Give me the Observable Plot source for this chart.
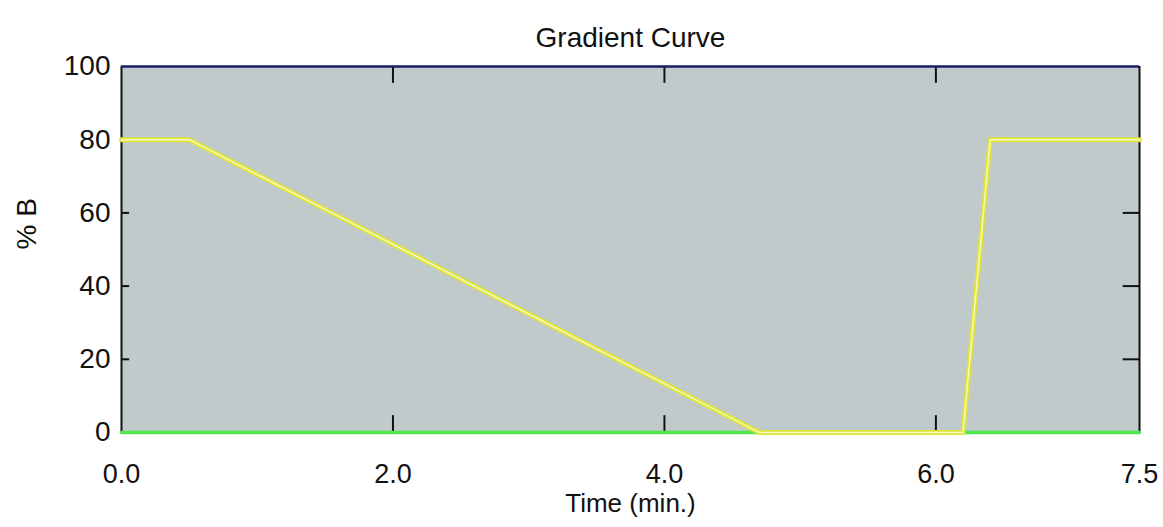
<!DOCTYPE html>
<html>
<head>
<meta charset="utf-8">
<script src="https://cdn.jsdelivr.net/npm/d3@7"></script>
<script src="https://cdn.jsdelivr.net/npm/@observablehq/plot@0.6"></script>
<style>
  html, body { margin: 0; padding: 0; background: #fff; }
  svg { display: block; }
</style>
</head>
<body>
<div id="chart"></div>
<script>
// Data
const gradientTime = [0, 0.5, 4.7, 6.2, 6.4, 7.5];
const gradientPercentB = [80, 80, 0, 0, 80, 80];
const baselineTime = [0, 7.5];
const baselineValue = [0, 0];
const xTicks = [0, 2, 4, 6, 7.5];
const xTickLabels = ["0.0", "2.0", "4.0", "6.0", "7.5"];
const yTicks = [0, 20, 40, 60, 80, 100];
const innerXTicks = [2, 4, 6];
const innerYTicks = [20, 40, 60, 80];

const gradient = gradientTime.map((t, i) => ({t, b: gradientPercentB[i]}));
const baseline = baselineTime.map((t, i) => ({t, b: baselineValue[i]}));

const font = "'Liberation Sans', Arial, sans-serif";
const tickLenY = 4.6;   // in % units (~17px)
const tickLenX = 0.12;  // in minutes (~16px)

const chart = Plot.plot({
  width: 1163,
  height: 527,
  marginLeft: 121,
  marginRight: 24,
  marginTop: 66,
  marginBottom: 95,
  style: { fontFamily: font, background: "#ffffff", color: "#111" },
  x: { domain: [0, 7.5] },
  y: { domain: [0, 100] },
  marks: [
    Plot.frame({ fill: "#c1cacb", stroke: "none" }),
    // inner ticks
    Plot.ruleX(innerXTicks, { y1: 0, y2: tickLenY, stroke: "#111", strokeWidth: 2 }),
    Plot.ruleX(innerXTicks, { y1: 100, y2: 100 - tickLenY, stroke: "#111", strokeWidth: 2 }),
    Plot.ruleY(innerYTicks, { x1: 7.5, x2: 7.5 - tickLenX, stroke: "#111", strokeWidth: 2 }),
    Plot.ruleY(innerYTicks, { x1: 0, x2: tickLenX * 0.5, stroke: "#111", strokeWidth: 2 }),
    // frame borders
    Plot.ruleX([0, 7.5], { stroke: "#111", strokeWidth: 2 }),
    Plot.ruleY([100], { stroke: "#1c1c66", strokeWidth: 2.5 }),
    // green baseline series
    Plot.line(baseline, { x: "t", y: "b", stroke: "#4ee84e", strokeWidth: 3.5 }),
    // yellow gradient series
    Plot.line(gradient, { x: "t", y: "b", stroke: "#dfe43a", strokeWidth: 5 }),
    Plot.line(gradient, { x: "t", y: "b", stroke: "#f7f9c4", strokeWidth: 1.4 }),
    // axes
    Plot.axisX(xTicks, {
      tickSize: 0, tickPadding: 31, fontSize: 27, label: null,
      tickFormat: (d) => xTickLabels[xTicks.indexOf(d)]
    }),
    Plot.axisY(yTicks, { tickSize: 0, tickPadding: 11, fontSize: 28, label: null }),
    // titles
    Plot.text(["Gradient Curve"], { frameAnchor: "top", dy: -39, fontSize: 28, fill: "#111" }),
    Plot.text(["Time (min.)"], { frameAnchor: "bottom", dy: 79, fontSize: 26, fill: "#111" }),
    Plot.text(["% B"], { frameAnchor: "left", dx: -94, rotate: -90, fontSize: 28, fill: "#111" })
  ]
});
document.getElementById("chart").appendChild(chart);
</script>
</body>
</html>
